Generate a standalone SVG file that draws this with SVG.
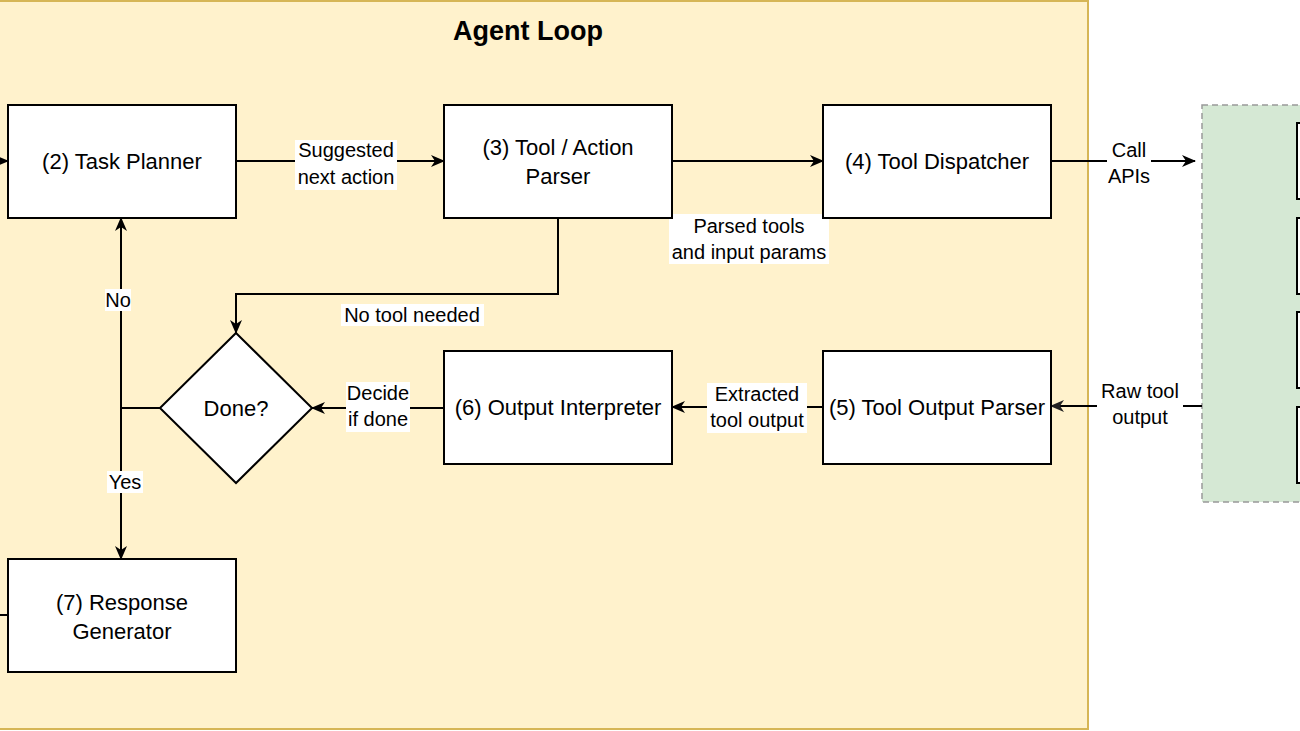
<svg xmlns="http://www.w3.org/2000/svg" width="1300" height="731" viewBox="0 0 1300 731">
<style>
.node{fill:#ffffff;stroke:#000000;stroke-width:2}
.nt{font-family:"Liberation Sans",Arial,sans-serif;font-size:22px;fill:#000;text-anchor:middle}
.et{font-family:"Liberation Sans",Arial,sans-serif;font-size:20px;fill:#000;text-anchor:middle}
.edge{fill:none;stroke:#000;stroke-width:2}
.lbg{fill:#ffffff}
</style>
<defs>
<marker id="arr" viewBox="0 0 14 12" refX="13" refY="6" markerWidth="14" markerHeight="12" markerUnits="userSpaceOnUse" orient="auto">
<path d="M0,0 L14,6 L0,12 L4,6 Z" fill="#000"/>
</marker>
<marker id="arrg" viewBox="0 0 14 12" refX="13" refY="6" markerWidth="14" markerHeight="12" markerUnits="userSpaceOnUse" orient="auto">
<path d="M0,0 L14,6 L0,12 L4,6 Z" fill="#222"/>
</marker>
</defs>
<rect width="1300" height="731" fill="#ffffff"/>
<g id="agent-loop">
<rect x="-5" y="1" width="1093" height="728" fill="#fff2cc" stroke="#d6b656" stroke-width="2"/>
<text x="528" y="40" font-family="'Liberation Sans',Arial,sans-serif" font-size="27" font-weight="bold" text-anchor="middle">Agent Loop</text>
</g>
<g id="tools-group">
<rect x="1202" y="105" width="110" height="397" fill="#d5e8d4" stroke="#999999" stroke-width="1.5" stroke-dasharray="6,4"/>
<rect class="node" x="1297" y="123" width="20" height="76"/>
<rect class="node" x="1297" y="218" width="20" height="76"/>
<rect class="node" x="1297" y="312" width="20" height="76"/>
<rect class="node" x="1297" y="407" width="20" height="76"/>
</g>
<g id="connectors">
<path class="edge" d="M-2,161 L8,161" marker-end="url(#arr)"/>
<path class="edge" d="M236,161 L444,161" marker-end="url(#arr)"/>
<path class="edge" d="M672,161 L823,161" marker-end="url(#arr)"/>
<path class="edge" d="M1051,161 L1195,161" stroke-width="1.5" marker-end="url(#arr)"/>
<path class="edge" d="M1202,406 L1051,406" stroke="#444" stroke-width="1.5" marker-end="url(#arrg)"/>
<path class="edge" d="M823,407 L672,407" marker-end="url(#arr)"/>
<path class="edge" d="M444,408 L312,408" marker-end="url(#arr)"/>
<path class="edge" d="M558,218 L558,294 L236,294 L236,333" marker-end="url(#arr)"/>
<path class="edge" d="M160,408 L121,408 L121,218" marker-end="url(#arr)"/>
<path class="edge" d="M121,408 L121,559" marker-end="url(#arr)"/>
<path class="edge" d="M8,615 L-2,615"/>
<rect class="lbg" x="295" y="140" width="102" height="50"/>
<text class="et" x="346" y="157">Suggested</text>
<text class="et" x="346" y="184">next action</text>
<rect class="lbg" x="669" y="214" width="160" height="50"/>
<text class="et" x="749" y="233">Parsed tools</text>
<text class="et" x="749" y="259">and input params</text>
<rect class="lbg" x="1107" y="140" width="44" height="50"/>
<text class="et" x="1129" y="157">Call</text>
<text class="et" x="1129" y="183">APIs</text>
<rect class="lbg" x="1097" y="381" width="86" height="50"/>
<text class="et" x="1140" y="398">Raw tool</text>
<text class="et" x="1140" y="424">output</text>
<rect class="lbg" x="707" y="383" width="100" height="50"/>
<text class="et" x="757" y="401">Extracted</text>
<text class="et" x="757" y="427">tool output</text>
<rect class="lbg" x="346" y="382" width="64" height="50"/>
<text class="et" x="378" y="400">Decide</text>
<text class="et" x="378" y="426">if done</text>
<rect class="lbg" x="341" y="304" width="143" height="22"/>
<text class="et" x="412" y="322">No tool needed</text>
<rect class="lbg" x="105" y="289" width="26" height="22"/>
<text class="et" x="118" y="307">No</text>
<rect class="lbg" x="107" y="471" width="36" height="22"/>
<text class="et" x="125" y="489">Yes</text>
</g>
<g id="task-planner">
<rect class="node" x="8" y="105" width="228" height="113"/>
<text class="nt" x="122" y="169">(2) Task Planner</text>
</g>
<g id="tool-action-parser">
<rect class="node" x="444" y="105" width="228" height="113"/>
<text class="nt" x="558" y="155">(3) Tool / Action</text>
<text class="nt" x="558" y="184">Parser</text>
</g>
<g id="tool-dispatcher">
<rect class="node" x="823" y="105" width="228" height="113"/>
<text class="nt" x="937" y="169">(4) Tool Dispatcher</text>
</g>
<g id="tool-output-parser">
<rect class="node" x="823" y="351" width="228" height="113"/>
<text class="nt" x="937" y="415">(5) Tool Output Parser</text>
</g>
<g id="output-interpreter">
<rect class="node" x="444" y="351" width="228" height="113"/>
<text class="nt" x="558" y="415">(6) Output Interpreter</text>
</g>
<g id="done">
<path d="M236,333 L312,408 L236,483 L160,408 Z" fill="#ffffff" stroke="#000" stroke-width="2"/>
<text class="nt" x="236" y="416">Done?</text>
</g>
<g id="response-generator">
<rect class="node" x="8" y="559" width="228" height="113"/>
<text class="nt" x="122" y="610">(7) Response</text>
<text class="nt" x="122" y="639">Generator</text>
</g>
</svg>
